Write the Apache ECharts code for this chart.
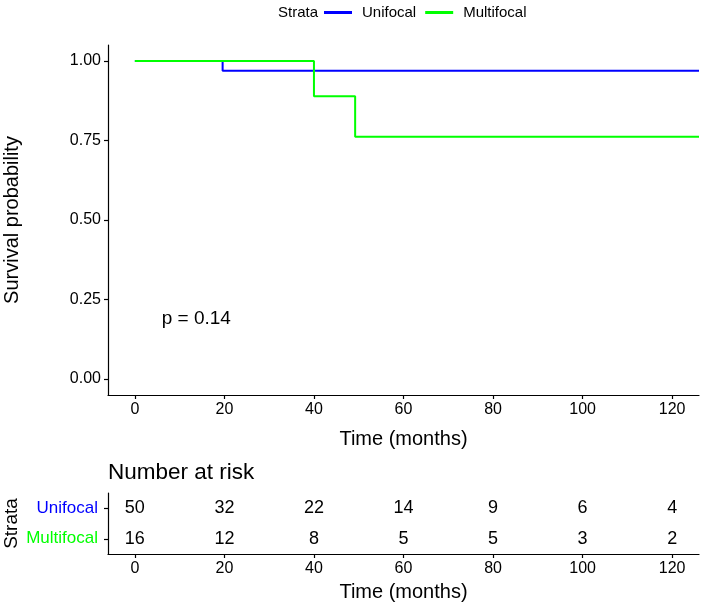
<!DOCTYPE html>
<html>
<head>
<meta charset="utf-8">
<script src="https://cdn.jsdelivr.net/npm/echarts@6/dist/echarts.min.js"></script>
<style>
  html, body { margin: 0; padding: 0; background: #fff; }
  #chart { width: 702px; height: 606px; }
</style>
</head>
<body>
<div id="chart"></div>
<script>
// strata and colours
const strata = ["Unifocal", "Multifocal"];
const strataColors = ["#0000ff", "#00ff00"];
// Kaplan-Meier steps [months, survival]
const unifocalCurve = [[0, 1], [19.6, 0.969], [126, 0.969]];
const multifocalCurve = [[0, 1], [40, 0.889], [49.2, 0.762], [126, 0.762]];
// number at risk table
const riskTimes = [0, 20, 40, 60, 80, 100, 120];
const unifocalRisk = [50, 32, 22, 14, 9, 6, 4];
const multifocalRisk = [16, 12, 8, 5, 5, 3, 2];
// axis ticks
const survTicks = [0, 0.25, 0.5, 0.75, 1];
const timeTicks = [0, 20, 40, 60, 80, 100, 120];
const pValueText = "p = 0.14";
const pValuePos = [6, 0.19];

const FONT = "Liberation Sans, Arial, sans-serif";
const axisLineStyle = { color: "#000", width: 1.2 };

let riskData = [];
riskTimes.forEach((t, i) => {
  riskData.push([t, "Unifocal", unifocalRisk[i]]);
  riskData.push([t, "Multifocal", multifocalRisk[i]]);
});

const chart = echarts.init(document.getElementById("chart"));

function timeAxis(gridIndex, nameGap) {
  return {
    type: "value",
    gridIndex: gridIndex,
    min: -6,
    max: 126,
    name: "Time (months)",
    nameLocation: "middle",
    nameGap: nameGap,
    nameTextStyle: { fontSize: 20, color: "#000", fontFamily: FONT },
    axisLine: { show: true, onZero: false, lineStyle: axisLineStyle },
    axisTick: { show: true, length: 4, customValues: timeTicks, lineStyle: axisLineStyle },
    axisLabel: { customValues: timeTicks, fontSize: 16, color: "#000", fontFamily: FONT, margin: 7 },
    splitLine: { show: false }
  };
}

const option = {
  animation: false,
  backgroundColor: "#fff",
  textStyle: { fontFamily: FONT },
  legend: {
    data: strata,
    left: 324,
    top: 5,
    padding: 0,
    itemWidth: 28,
    itemHeight: 3,
    itemGap: 9,
    icon: "rect",
    textStyle: { fontSize: 15, color: "#000", fontFamily: FONT, padding: [0, 0, 0, 5] }
  },
  graphic: [
    { type: "text", left: 278, top: 5, style: { text: "Strata", fontSize: 15, fill: "#000", fontFamily: FONT } },
    { type: "text", left: 108, top: 461, style: { text: "Number at risk", fontSize: 22.5, fill: "#000", fontFamily: FONT } }
  ],
  grid: [
    { left: 108, top: 45, width: 591, height: 350, outerBoundsMode: "none" },
    { left: 108, top: 493, width: 591, height: 61, outerBoundsMode: "none" }
  ],
  xAxis: [timeAxis(0, 34), timeAxis(1, 28)],
  yAxis: [
    {
      type: "value",
      gridIndex: 0,
      min: -0.05,
      max: 1.05,
      name: "Survival probability",
      nameLocation: "middle",
      nameGap: 86,
      nameTextStyle: { fontSize: 20, color: "#000", fontFamily: FONT },
      axisLine: { show: true, onZero: false, lineStyle: axisLineStyle },
      axisTick: { show: true, length: 4, customValues: survTicks, lineStyle: axisLineStyle },
      axisLabel: {
        customValues: survTicks,
        fontSize: 16,
        color: "#000",
        fontFamily: FONT,
        margin: 7,
        formatter: (v) => v.toFixed(2)
      },
      splitLine: { show: false }
    },
    {
      type: "category",
      gridIndex: 1,
      data: ["Multifocal", "Unifocal"],
      name: "Strata",
      nameLocation: "middle",
      nameGap: 87,
      nameMoveOverlap: false,
      nameTextStyle: { fontSize: 19, color: "#000", fontFamily: FONT },
      axisLine: { show: true, onZero: false, lineStyle: axisLineStyle },
      axisTick: { show: true, length: 4, alignWithLabel: true, lineStyle: axisLineStyle },
      axisLabel: {
        fontSize: 17,
        margin: 10,
        fontFamily: FONT,
        formatter: (v) => (v === "Unifocal" ? "{u|" + v + "}" : "{m|" + v + "}"),
        rich: {
          u: { color: strataColors[0], fontSize: 17, fontFamily: FONT },
          m: { color: strataColors[1], fontSize: 17, fontFamily: FONT }
        }
      },
      splitLine: { show: false }
    }
  ],
  series: [
    {
      name: "Unifocal",
      type: "line",
      step: "end",
      data: unifocalCurve,
      showSymbol: false,
      color: strataColors[0],
      lineStyle: { width: 2, color: strataColors[0] }
    },
    {
      name: "Multifocal",
      type: "line",
      step: "end",
      data: multifocalCurve,
      showSymbol: false,
      color: strataColors[1],
      lineStyle: { width: 2, color: strataColors[1] }
    },
    {
      type: "scatter",
      data: [pValuePos],
      symbolSize: 1,
      itemStyle: { color: "rgba(255,255,255,0)", opacity: 1 },
      label: {
        show: true,
        position: "inside",
        align: "left",
        formatter: pValueText,
        fontSize: 19,
        color: "#000",
        fontFamily: FONT
      },
      silent: true
    },
    {
      type: "scatter",
      xAxisIndex: 1,
      yAxisIndex: 1,
      data: riskData,
      symbolSize: 1,
      itemStyle: { color: "rgba(255,255,255,0)", opacity: 1 },
      label: {
        show: true,
        position: "inside",
        formatter: (p) => String(p.value[2]),
        fontSize: 18,
        color: "#000",
        fontFamily: FONT
      },
      silent: true
    }
  ]
};

chart.setOption(option);
</script>
</body>
</html>
